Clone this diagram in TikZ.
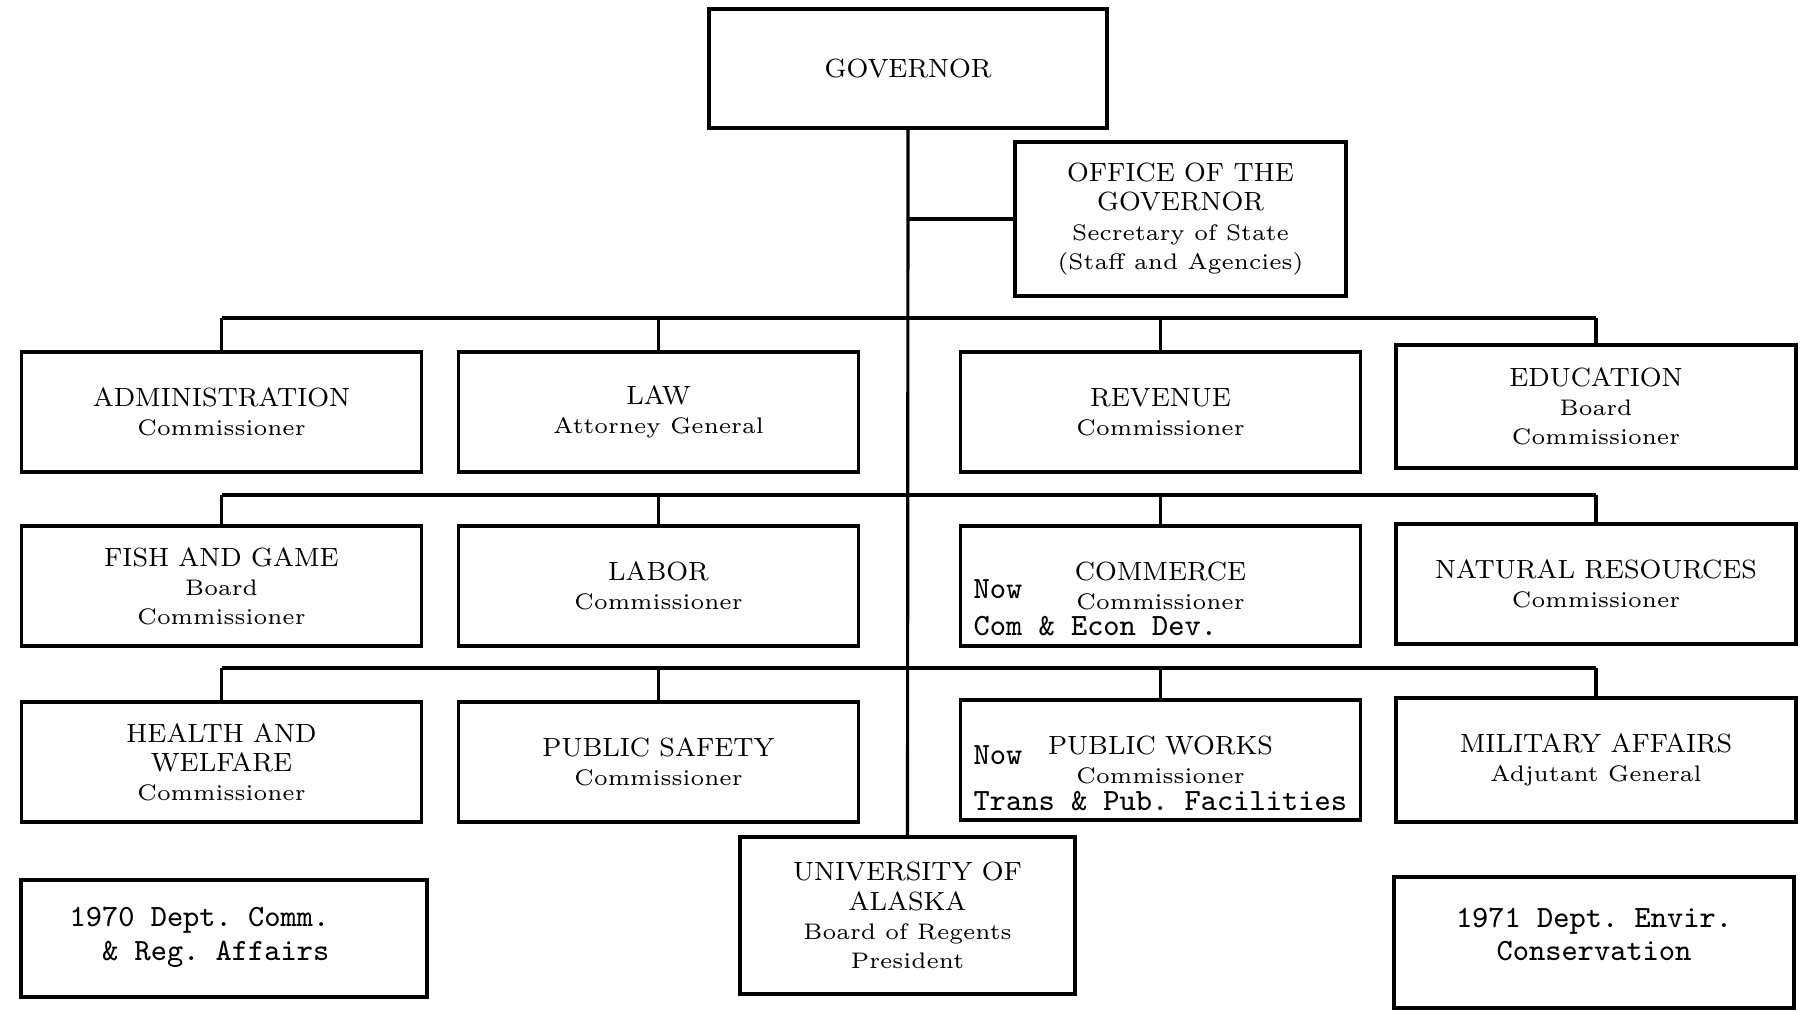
\documentclass[tikz,border=0pt]{standalone}
\usepackage{tikz}

\tikzset{
  unit/.style={draw, line width=0.9pt, minimum width=4cm, minimum height=1.2cm,
    align=center, inner sep=0pt, font=\fontsize{7.5}{8.3}\selectfont},
  typed/.style={anchor=west, inner sep=0pt, font=\fontsize{8.8}{9.5}\selectfont\ttfamily},
}
\newcommand{\post}[1]{{\fontsize{6.4}{7.7}\selectfont #1}}

\begin{document}
\frenchspacing
\begin{tikzpicture}[line width=0.9pt]
\useasboundingbox (0,0) rectangle (18.05,10.12);

% top
\node (gov) at (9.08,9.435) [unit, minimum width=3.98cm, minimum height=1.19cm]{GOVERNOR};
\node (off) at (11.805,7.93) [unit, minimum width=3.31cm, minimum height=1.54cm]
  {OFFICE OF THE\\ GOVERNOR\\ \post{Secretary of State}\\ \post{(Staff and Agencies)}};

% first row
\node (adm) at (2.215,6.00) [unit]{ADMINISTRATION\\ \post{Commissioner}};
\node (law) at (6.585,6.00) [unit]{LAW\\ \post{Attorney General}};
\node (rev) at (11.605,6.00) [unit]{REVENUE\\ \post{Commissioner}};
\node (edu) at (15.96,6.055) [unit, minimum height=1.23cm]{EDUCATION\\ \post{Board}\\ \post{Commissioner}};

% second row
\node (fish) at (2.215,4.26) [unit]{FISH AND GAME\\ \post{Board}\\ \post{Commissioner}};
\node (lab) at (6.585,4.26) [unit]{LABOR\\ \post{Commissioner}};
\node (com) at (11.605,4.26) [unit]{COMMERCE\\ \post{Commissioner}};
\node (nat) at (15.96,4.28) [unit]{NATURAL RESOURCES\\ \post{Commissioner}};

% third row
\node (hea) at (2.215,2.50) [unit]{HEALTH AND\\ WELFARE\\ \post{Commissioner}};
\node (saf) at (6.585,2.50) [unit]{PUBLIC SAFETY\\ \post{Commissioner}};
\node (pub) at (11.605,2.52) [unit]{PUBLIC WORKS\\ \post{Commissioner}};
\node (mil) at (15.96,2.52) [unit, minimum height=1.24cm]{MILITARY AFFAIRS\\ \post{Adjutant General}};

% bottom
\node (uni) at (9.075,0.965) [unit, minimum width=3.35cm, minimum height=1.57cm]
  {UNIVERSITY OF\\ ALASKA\\ \post{Board of Regents}\\ \post{President}};
\node (cra) at (2.24,0.735) [unit, minimum width=4.06cm, minimum height=1.17cm]{};
\node (dec) at (15.94,0.695) [unit, minimum width=4.0cm, minimum height=1.31cm]{};
\node (cratext) at (0.68,0.75) [typed, align=left, font=\fontsize{8.8}{9.7}\selectfont\ttfamily]
  {1970 Dept. Comm.\\ \ \ \& Reg. Affairs};
\node (dectext) at (15.94,0.775) [typed, anchor=center, align=center, font=\fontsize{8.8}{9.2}\selectfont\ttfamily]
  {1971 Dept. Envir.\\ Conservation};

% typed notes
\node (comnow) at (9.72,4.23) [typed]{Now};
\node (comnew) at (9.72,3.86) [typed]{Com \& Econ Dev.};
\node (pubnow) at (9.72,2.57) [typed]{Now};
\node (pubnew) at (9.72,2.11) [typed]{Trans \& Pub. Facilities};

% connectors
\coordinate (bus1) at (9.08,6.94);
\coordinate (bus2) at (9.08,5.17);
\coordinate (bus3) at (9.08,3.44);
\draw (gov.south) -- (uni.north); % trunk
\draw (gov.south |- off.west) -- (off.west);
\draw (adm.north |- bus1) -- (edu.north |- bus1);
\draw (fish.north |- bus2) -- (nat.north |- bus2);
\draw (hea.north |- bus3) -- (mil.north |- bus3);
\foreach \n in {adm,law,rev,edu} \draw (\n.north) -- (\n.north |- bus1);
\foreach \n in {fish,lab,com,nat} \draw (\n.north) -- (\n.north |- bus2);
\foreach \n in {hea,saf,pub,mil} \draw (\n.north) -- (\n.north |- bus3);
\end{tikzpicture}
\end{document}
